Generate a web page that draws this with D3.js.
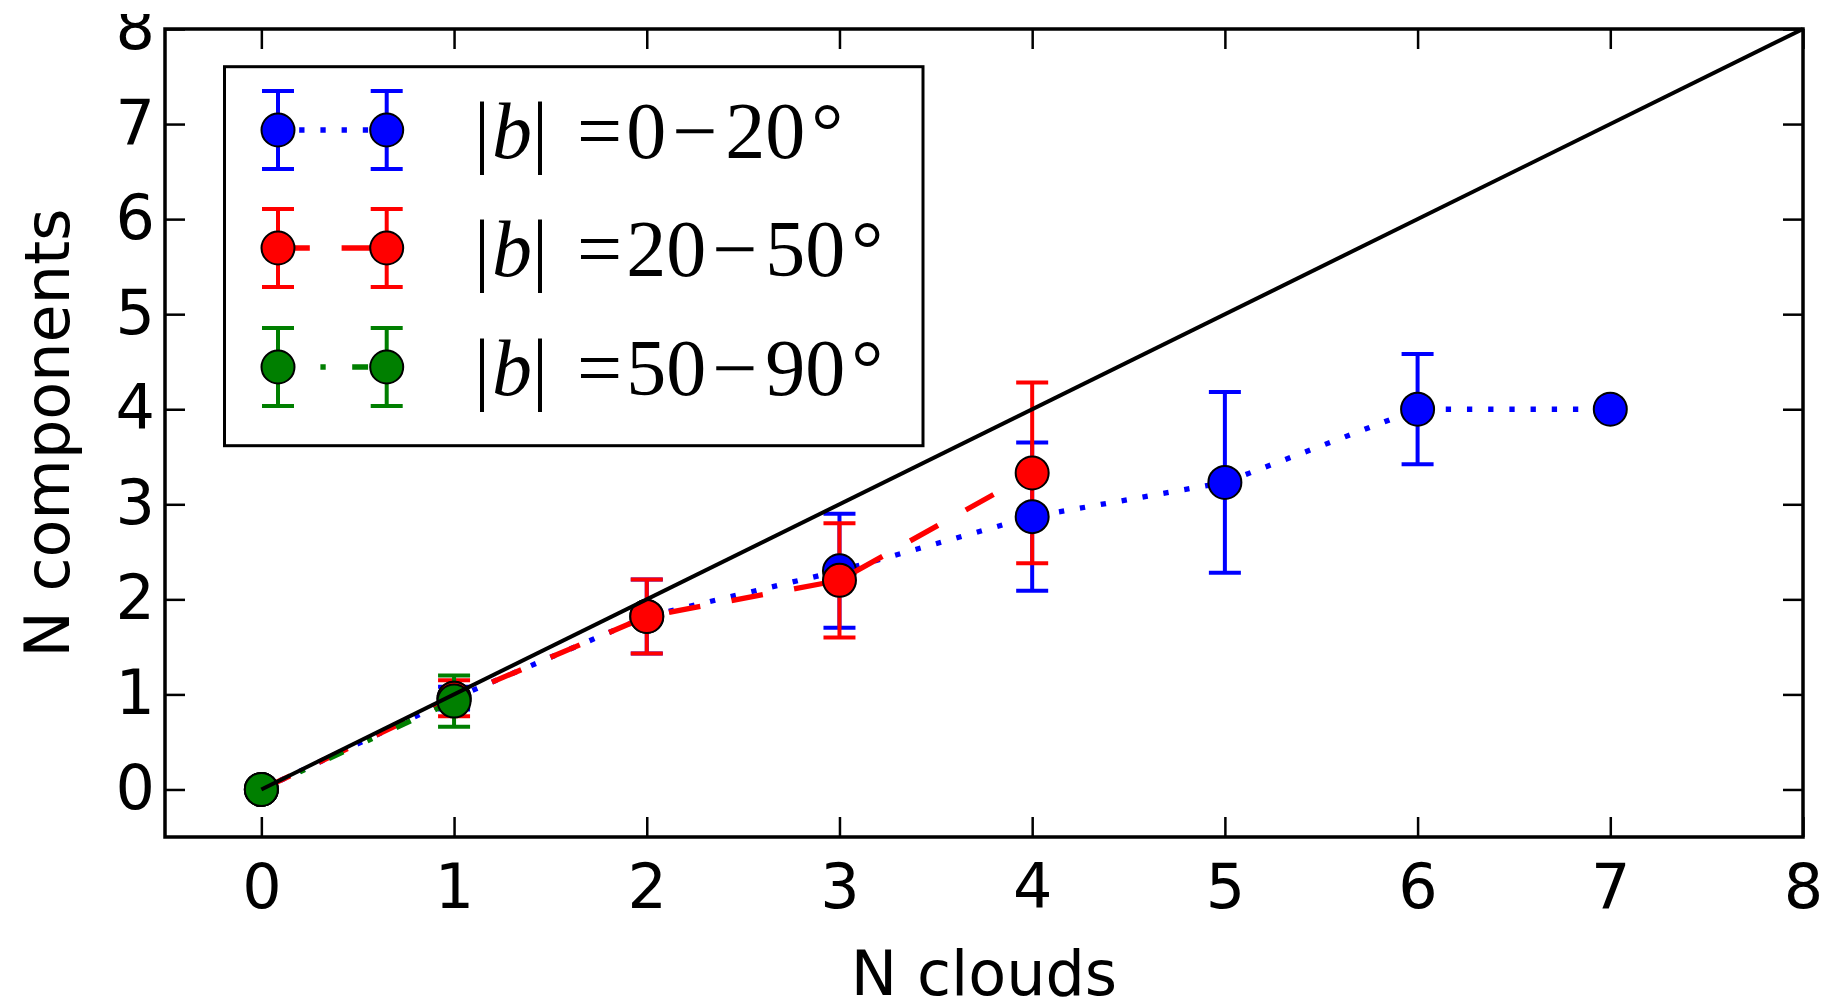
<!DOCTYPE html>
<html>
<head>
<meta charset="utf-8">
<script src="https://cdn.jsdelivr.net/npm/d3@7"></script>
<style>
  html, body { margin: 0; padding: 0; background: #fff; }
  svg { display: block; }
</style>
</head>
<body>
<svg id="chart" width="1826" height="1003"></svg>
<script>
// ---- data -------------------------------------------------------------
const cloudCounts = [0, 1, 2, 3, 4, 5, 6, 7];

// |b| = 0-20 deg
const lowLatMean = [0, 0.96, 1.82, 2.30, 2.87, 3.23, 4.00, 4.00];
const lowLatErr  = [0, 0.12, 0.39, 0.60, 0.78, 0.95, 0.58, 0];

// |b| = 20-50 deg
const midLatMean = [0, 0.96, 1.82, 2.20, 3.33];
const midLatErr  = [0, 0.19, 0.39, 0.60, 0.95];

// |b| = 50-90 deg
const highLatMean = [0, 0.93];
const highLatErr  = [0, 0.27];

const xTicks = [0, 1, 2, 3, 4, 5, 6, 7, 8];
const yTicks = [0, 1, 2, 3, 4, 5, 6, 7, 8];
const oneToOne = [0, 8];

const latRanges = [["0", "20"], ["20", "50"], ["50", "90"]];

// ---- layout -----------------------------------------------------------
const W = 1826, H = 1003;
const plot = { left: 165, right: 1803, top: 29, bottom: 837 };
const lw = 5.3;

const series = [
  { mean: lowLatMean,  err: lowLatErr,  color: "#0000ff", dash: `${lw} ${3 * lw}` },
  { mean: midLatMean,  err: midLatErr,  color: "#ff0000", dash: `${6 * lw} ${6 * lw}` },
  { mean: highLatMean, err: highLatErr, color: "#007f00", dash: `${3 * lw} ${5 * lw} ${lw} ${5 * lw}` }
];
series.forEach((s, i) => { s.range = latRanges[i]; });

const x = d3.scaleLinear().domain([-0.5, 8]).range([plot.left, plot.right]);
const y = d3.scaleLinear().domain([-0.5, 8]).range([plot.bottom, plot.top]);

const svg = d3.select("#chart");
svg.append("defs").append("clipPath").attr("id", "page")
  .append("rect").attr("x", 0).attr("y", 14).attr("width", W).attr("height", H - 14);
const root = svg.append("g").attr("clip-path", "url(#page)");

const markerR = 16.5;
const capHalf = 16;
const barWidth = 4;

// ---- error bars (under every series' markers) -------------------------
const barsLayer = root.append("g");
series.forEach(s => {
  const pts = s.mean.map((m, i) => ({ x: cloudCounts[i], y: m, e: s.err[i] }));
  const g = barsLayer.append("g").attr("stroke", s.color).attr("stroke-width", barWidth).attr("fill", "none");
  g.selectAll("line.bar").data(pts).join("line").attr("class", "bar")
    .attr("x1", d => x(d.x)).attr("x2", d => x(d.x))
    .attr("y1", d => y(d.y - d.e)).attr("y2", d => y(d.y + d.e));
  g.selectAll("line.capTop").data(pts).join("line").attr("class", "capTop")
    .attr("x1", d => x(d.x) - capHalf).attr("x2", d => x(d.x) + capHalf)
    .attr("y1", d => y(d.y + d.e)).attr("y2", d => y(d.y + d.e));
  g.selectAll("line.capBot").data(pts).join("line").attr("class", "capBot")
    .attr("x1", d => x(d.x) - capHalf).attr("x2", d => x(d.x) + capHalf)
    .attr("y1", d => y(d.y - d.e)).attr("y2", d => y(d.y - d.e));
});

// ---- connecting lines and markers -------------------------------------
const lineGen = d3.line().x(d => x(d.x)).y(d => y(d.y));
series.forEach(s => {
  const pts = s.mean.map((m, i) => ({ x: cloudCounts[i], y: m }));
  root.append("path").datum(pts)
    .attr("d", lineGen)
    .attr("fill", "none")
    .attr("stroke", s.color)
    .attr("stroke-width", lw)
    .attr("stroke-dasharray", s.dash);
  root.append("g").selectAll("circle").data(pts).join("circle")
    .attr("cx", d => x(d.x)).attr("cy", d => y(d.y)).attr("r", markerR)
    .attr("fill", s.color).attr("stroke", "#000").attr("stroke-width", 2);
});

// ---- one-to-one reference line ----------------------------------------
root.append("line")
  .attr("x1", x(oneToOne[0])).attr("y1", y(oneToOne[0]))
  .attr("x2", x(oneToOne[1])).attr("y2", y(oneToOne[1]))
  .attr("stroke", "#000").attr("stroke-width", 4);

// ---- axes (inward ticks on all four sides) ----------------------------
const tickFont = "'DejaVu Sans', sans-serif";
const tickLen = 20;

function styleAxis(g) {
  g.select(".domain").remove();
  g.selectAll(".tick line").attr("stroke", "#000").attr("stroke-width", 2.5);
  g.selectAll(".tick text").attr("fill", "#000")
    .style("font-family", tickFont).style("font-size", "62px");
}

root.append("g").attr("transform", `translate(0,${plot.bottom})`)
  .call(d3.axisBottom(x).tickValues(xTicks).tickFormat(d3.format("d")).tickSize(-tickLen).tickPadding(27))
  .call(styleAxis);
root.append("g").attr("transform", `translate(0,${plot.top})`)
  .call(d3.axisTop(x).tickValues(xTicks).tickFormat("").tickSize(-tickLen))
  .call(styleAxis);
root.append("g").attr("transform", `translate(${plot.left},0)`)
  .call(d3.axisLeft(y).tickValues(yTicks).tickFormat(d3.format("d")).tickSize(-tickLen).tickPadding(10))
  .call(styleAxis)
  .selectAll(".tick text").attr("dy", "0.31em");
root.append("g").attr("transform", `translate(${plot.right},0)`)
  .call(d3.axisRight(y).tickValues(yTicks).tickFormat("").tickSize(-tickLen))
  .call(styleAxis);

// plot frame
root.append("rect")
  .attr("x", plot.left).attr("y", plot.top)
  .attr("width", plot.right - plot.left).attr("height", plot.bottom - plot.top)
  .attr("fill", "none").attr("stroke", "#000").attr("stroke-width", 3.5);

// axis titles
root.append("text")
  .attr("x", (plot.left + plot.right) / 2).attr("y", 995)
  .attr("text-anchor", "middle")
  .style("font-family", tickFont).style("font-size", "62px")
  .text("N clouds");
root.append("text")
  .attr("transform", `translate(69,${(plot.top + plot.bottom) / 2}) rotate(-90)`)
  .attr("text-anchor", "middle")
  .style("font-family", tickFont).style("font-size", "62px")
  .text("N components");

// ---- legend -----------------------------------------------------------
const legend = root.append("g");
legend.append("rect")
  .attr("x", 224.5).attr("y", 66.7).attr("width", 698.5).attr("height", 379)
  .attr("fill", "#fff").attr("stroke", "#000").attr("stroke-width", 3);

const handleX = [278, 386.7];
const rowY = [130, 248, 367];
const legendBar = 39;

series.forEach((s, i) => {
  const cy = rowY[i];
  const g = legend.append("g");
  g.append("line")
    .attr("x1", handleX[0]).attr("x2", handleX[1]).attr("y1", cy).attr("y2", cy)
    .attr("stroke", s.color).attr("stroke-width", lw).attr("stroke-dasharray", s.dash);
  handleX.forEach(hx => {
    const eb = g.append("g").attr("stroke", s.color).attr("stroke-width", barWidth);
    eb.append("line").attr("x1", hx).attr("x2", hx).attr("y1", cy - legendBar).attr("y2", cy + legendBar);
    eb.append("line").attr("x1", hx - capHalf).attr("x2", hx + capHalf).attr("y1", cy - legendBar).attr("y2", cy - legendBar);
    eb.append("line").attr("x1", hx - capHalf).attr("x2", hx + capHalf).attr("y1", cy + legendBar).attr("y2", cy + legendBar);
    g.append("circle").attr("cx", hx).attr("cy", cy).attr("r", markerR)
      .attr("fill", s.color).attr("stroke", "#000").attr("stroke-width", 2);
  });

  // label:  |b| = lo - hi degrees, in a serif math face
  const t = g.append("text")
    .attr("y", cy + 28)
    .attr("font-family", "Liberation Serif, Times New Roman, DejaVu Serif, serif")
    .attr("font-size", 80)
    .attr("fill", "#000");
  const parts = [
    { s: "|", gap: 0 },
    { s: "b", gap: 2, italic: true },
    { s: "|", gap: 0 },
    { s: "=", gap: 29 },
    { s: s.range[0], gap: 4 },
    { s: "\u2212", gap: 6 },
    { s: s.range[1], gap: 8 },
    { s: "\u00B0", gap: 6 }
  ];
  let cx = 474;
  parts.forEach(p => {
    cx += p.gap;
    const ts = t.append("tspan").attr("x", cx).text(p.s);
    if (p.italic) ts.attr("font-style", "italic");
    cx += ts.node().getComputedTextLength();
  });
});
</script>
</body>
</html>
